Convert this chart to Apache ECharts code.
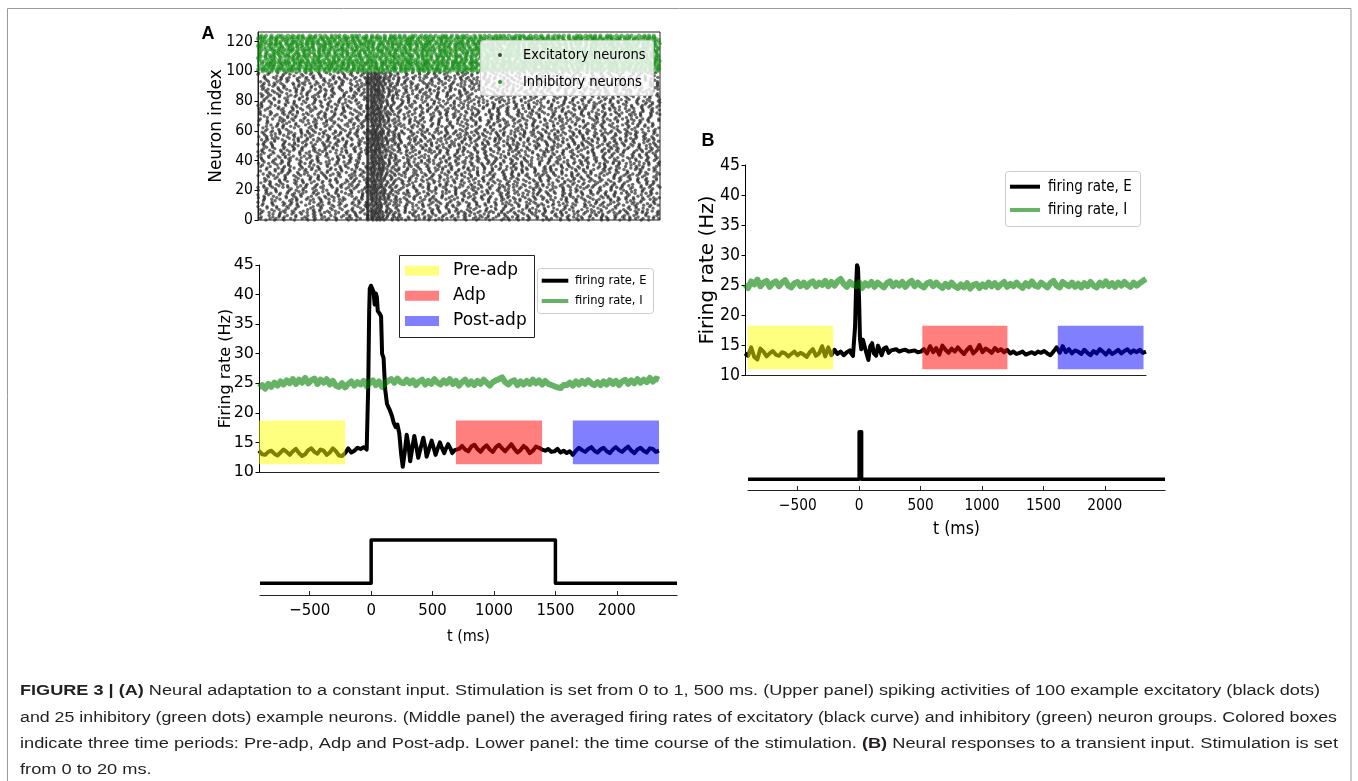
<!DOCTYPE html>
<html><head><meta charset="utf-8">
<script src="https://cdn.jsdelivr.net/npm/echarts@6/dist/echarts.min.js"></script>
<style>html,body{margin:0;padding:0;background:#fff}#c{width:1358px;height:781px}</style>
</head><body><div id="c"></div>
<script>
// ---------------- DATA ----------------
const tStart = -900, tEnd = 2350, tStep = 25;
// Panel A: excitatory rate (Hz)
const eA_pre = [13.6,13.0,12.9,13.4,13.6,13.1,12.8,13.3,13.8,13.4,12.9,13.5,13.9,13.2,12.7,13.0,13.7,14.0,13.4,13.1,13.8,13.6,12.9,13.3,14.0,13.5,12.8,12.7,13.2,14.0,13.3,13.6,14.1,13.9,14.2,13.8]; // t=-900..-25
const eA_trT = [-20,-12,-5,0,10,20,30,40,50,58,65,80,92,100,112,125,140,160,180,195,210,225,240,255,268,285,300,315,328,345,362,378,394,415,435,450,462,483,503,520,535,552,570,588,605,620,637,655,670,690,705];
const eA_trV = [13.8,25,37,41,41.5,41.2,40.5,38.3,40.2,39.5,37.2,36.8,36.3,30,29.3,24,21.5,20.6,19.5,18.3,17.6,18,16.5,13,10.9,13.5,16.3,14.5,11.8,14,16.1,14.3,12.4,14.2,15.8,14.3,12.6,14,15.3,14,12.9,14,15,14,13.2,14,14.7,14,13.2,13.7,14];
const eA_post = [13.9,14.4,13.8,13.5,14.3,14.6,13.9,13.4,14.1,14.5, 13.8,13.4,14.2,14.6,14.0,13.5,14.1,14.7,13.9,13.3, 13.7,14.4,14.0,13.2,13.6,14.3,14.1,13.8,13.6,13.9, 13.4,13.5,13.9,13.3,13.6,13.2,13.5,12.9,13.6,14.1, 13.7,13.4,13.9,14.2,13.6,13.3,13.8,14.1,13.5,13.2, 13.8,14.2,13.7,13.4,13.9,14.3,13.6,13.2,13.8,14.1, 13.6,13.3,14.0,13.9,13.4,13.6]; // t=725..2350
// Panel A: inhibitory rate (Hz), t=-900..2350
const iA = [24.3,24.7,24.1,24.9,24.4,25.1,24.6,25.3,24.8,25.5, 25.0,25.7,24.9,25.6,25.1,25.9,25.0,25.5,25.8,24.9, 25.6,25.1,25.7,24.8,25.4,24.6,24.4,25.0,24.3,24.9, 25.3,24.6,25.2,24.8,25.4,24.5,25.1,25.5,24.7,25.3, 24.4,25.0,25.4,25.7,25.1,25.8,25.2,25.0,25.6,25.0, 25.5,24.7,25.3,25.6,24.8,25.4,24.9,25.7,25.1,24.8, 25.5,25.0,25.7,24.9,25.4,24.6,25.2,25.6,24.8,25.3, 24.7,25.4,24.9,25.6,25.1,24.6,25.2,25.5,25.7,26.0, 25.2,24.8,25.3,25.5,24.7,25.3,24.8,25.4,24.9,25.6, 25.0,25.5,24.8,25.4,24.9,24.7,24.5,24.3,24.2,24.7, 24.7,25.1,24.6,25.3,24.8,25.4,24.9,25.5,25.0,24.7, 25.2,24.7,25.3,24.8,25.5,24.9,25.4,24.7,25.3,25.6, 24.9,25.5,25.0,25.7,25.1,25.6,25.2,25.9,25.3,25.8, 25.6];
// Panel B: excitatory rate (Hz)
const eB_pre = [13.6,13.2,14.6,13.0,12.6,14.4,13.9,13.1,13.6,14.0, 13.4,13.2,13.8,13.6,13.1,13.5,13.9,13.3,13.7,13.4, 13.0,13.8,14.3,13.2,13.6,14.8,13.1,14.6,13.3,14.2, 13.5,13.9,13.3,13.8,14.1]; // t=-900..-50
const eB_trT = [-40,-25,-15,-8,0,8,16,24,32,42,55,68,82,100,115,130,145,162,178,192,208,225,245,265,285];
const eB_trV = [13.6,13.2,13.5,18,24.5,28.3,27.8,23,16,14.3,15.9,15.6,13.8,12.5,14.8,15.3,13.6,13.2,14.9,14.2,13.3,14.4,14.6,13.7,14.1];
const eB_post = [14.0,14.3,13.9,14.1,14.2,13.9,14.0,14.1,13.8,13.9, 14.3,13.6,14.8,13.8,14.5,13.4,14.9,14.2,13.7,14.4, 13.9,14.6,14.0,13.5,14.2,14.7,13.6,14.1,15.0,13.8, 14.4,14.1,13.7,14.5,14.0,14.3,13.8,14.2,13.6,13.9, 13.5,13.7,13.9,13.4,13.6,13.8,13.5,13.9,13.7,14.0, 13.6,13.3,13.9,14.6,13.7,14.8,13.8,14.3,13.6,14.1, 13.9,13.5,14.2,13.7,13.3,14.0,13.6,14.3,13.9,13.4, 14.1,13.5,13.8,14.2,13.6,14.0,14.3,13.7,14.1,13.8, 14.2,13.7,13.9]; // t=300..2350
// Panel B: inhibitory rate (Hz), t=-900..2350
const iB = [25.1,24.5,25.6,25.1,25.9,24.8,25.4,25.7,24.7,25.3, 25.6,24.8,25.4,25.8,24.9,24.6,25.3,25.5,24.8,25.4, 24.7,25.3,25.6,24.8,25.4,25.0,25.7,24.8,25.5,24.9, 25.6,26.0,25.2,24.7,25.5,25.0,24.8,25.4,24.5,25.3, 24.9,25.5,24.7,25.4,25.0,24.6,25.3,25.6,24.8,25.4, 24.9,25.5,24.7,25.3,25.7,24.8,25.4,24.9,24.6,25.3, 25.5,24.8,25.4,24.9,24.5,25.2,24.7,25.4,24.8,24.5, 25.1,24.6,25.3,24.4,25.0,25.2,24.5,25.1,24.7,25.4, 24.8,25.3,24.6,25.1,25.5,24.7,25.2,24.8,25.4,24.9, 24.5,25.3,24.8,25.6,24.9,24.7,25.4,25.0,24.6,25.3, 25.7,24.9,24.6,25.5,25.1,24.8,25.4,24.7,25.2,24.6, 25.3,24.8,25.5,24.9,24.6,25.4,24.9,25.6,24.8,25.3, 24.7,25.4,24.9,25.5,25.0,24.7,25.4,24.9,25.3,25.7, 26.0];
// period boxes [start, end] (ms) and their rate extent (Hz)
const periodNames = ['Pre-adp','Adp','Post-adp'];
const periodsA = [[-900,-200],[700,1400],[1650,2350]];
const periodsB = [[-880,-185],[537,1227],[1635,2330]];
const boxRateA = [11.3,18.7];
const boxRateB = [10.95,18.2];
// stimulation time courses
const stimA_t = [-905,0,0,1500,1500,2490];
const stimA_v = [0,0,1,1,0,0];
const stimB_t = [-905,0,0,20,20,2490];
const stimB_v = [0,0,1,1,0,0];
// raster: neuron counts and a typed table of inter-spike-interval factors
const nExc = 100, nInh = 25;
const isiFactor = [1.12,0.74,1.35,0.91,0.62,1.24,1.05,0.83,1.41,0.69,0.97,1.18,0.78,1.30,0.88,1.08,0.66,1.46,0.94,0.72,1.21,1.01,0.85,1.33,0.59,1.14,0.99,0.76,1.27,0.93,1.06];
// tick labels
const rasterTicks = [0,20,40,60,80,100,120];
const timeTicks = [-500,0,500,1000,1500,2000];
// caption
const captionLines = [
  [['FIGURE 3 | (A)',1],[' Neural adaptation to a constant input. Stimulation is set from 0 to 1, 500 ms. (Upper panel) spiking activities of 100 example excitatory (black dots)',0]],
  [['and 25 inhibitory (green dots) example neurons. (Middle panel) the averaged firing rates of excitatory (black curve) and inhibitory (green) neuron groups. Colored boxes',0]],
  [['indicate three time periods: Pre-adp, Adp and Post-adp. Lower panel: the time course of the stimulation. ',0],['(B)',1],[' Neural responses to a transient input. Stimulation is set',0]],
  [['from 0 to 20 ms.',0]]
];
// ----------------------------------------------------------------

function seq(t0, vals){ return vals.map((v,i)=>[t0+i*tStep, v]); }
function pairs(ts, vs){ return ts.map((t,i)=>[t, vs[i]]); }
const eAData = seq(tStart, eA_pre).concat(pairs(eA_trT, eA_trV), seq(725, eA_post));
const iAData = seq(tStart, iA);
const eBData = seq(tStart, eB_pre).concat(pairs(eB_trT, eB_trV), seq(300, eB_post));
const iBData = seq(tStart, iB);
const stimAData = pairs(stimA_t, stimA_v);
const stimBData = pairs(stimB_t, stimB_v);

function perMs(data){
  const out = []; let j = 0;
  for (let t = tStart; t <= tEnd; t++){
    while (j < data.length-2 && data[j+1][0] < t) j++;
    const a = data[j], b = data[j+1];
    const f = Math.min(1, Math.max(0, (t-a[0])/(b[0]-a[0])));
    out.push(a[1] + (b[1]-a[1])*f);
  }
  return out;
}
// spike raster derived from the plotted population rates
function raster(rates, n, offset, onset, salt){
  const pts = [];
  for (let k = 0; k < n; k++){
    const m = 0.8 + 0.4*((k*0.7548776662 + 0.21) % 1);
    let ph = (k*0.6180339887 + 0.37) % 1;
    let c = k*13 + salt;
    let thr = isiFactor[c % isiFactor.length];
    let done = onset === null;
    for (let i = 0; i < rates.length; i++){
      const t = tStart + i;
      if (!done && t >= onset){ pts.push([t, k+offset]); ph = 0; done = true; continue; }
      ph += rates[i]*m/1000;
      if (ph >= thr){ pts.push([t, k + offset]); ph -= thr; c += 7; thr = isiFactor[c % isiFactor.length]; }
    }
  }
  return pts;
}
const onsetE = eA_trT[eA_trV.findIndex(v => v > 20)];
const excSpikes = raster(perMs(eAData), nExc, 0, onsetE, 0);
const inhSpikes = raster(perMs(iAData), nInh, nExc, null, 5);

const boxColors = ['rgba(255,255,0,0.5)','rgba(255,0,0,0.5)','rgba(0,0,255,0.5)'];
const FONT = 'DejaVu Sans';
// narrow face for the tall tick labels, if installed
const hasCond = (function(){
  const c = document.createElement('canvas').getContext('2d'), s = 'Excitatory 1000';
  c.font = '20px "DejaVu Sans Condensed", monospace'; const a = c.measureText(s).width;
  c.font = '20px "DejaVu Sans", monospace'; const b = c.measureText(s).width;
  c.font = '20px monospace'; const m = c.measureText(s).width;
  return Math.abs(a-b) > 1 && Math.abs(a-m) > 1;
})();
const CF = hasCond ? 'DejaVu Sans Condensed' : FONT;
const S = hasCond
  ? {rTick:15.6, sTickA:16.6, sNameA:16, sTickB:15.3, sNameB:17.5, bTick:17.5, rLeg:14.5, legA:12.8, legB:15}
  : {rTick:14, sTickA:15, sNameA:15, sTickB:14, sNameB:16, bTick:17, rLeg:13, legA:12, legB:14};

function boxSeries(periods, ext, xi, yi){
  return {
    type:'custom', xAxisIndex:xi, yAxisIndex:yi, z:5, silent:true,
    data: periods.map((p,i)=>[p[0],p[1],ext[0],ext[1],i]),
    renderItem: function(params, api){
      const p1 = api.coord([api.value(0), api.value(3)]);
      const p2 = api.coord([api.value(1), api.value(2)]);
      return {type:'rect', shape:{x:p1[0], y:p1[1], width:p2[0]-p1[0], height:p2[1]-p1[1]},
              style:{fill: boxColors[api.value(4)]}};
    }
  };
}
function rateY(gi, fam, fs, gap, nfs){
  return {gridIndex:gi, type:'value', min:10, max:45, interval:5,
    name:'Firing rate (Hz)', nameLocation:'middle', nameGap:gap, nameMoveOverlap:false,
    nameTextStyle:{fontFamily:FONT, fontSize:nfs, color:'#000'},
    axisLine:{show:true, onZero:false, lineStyle:{color:'#000', width:1}},
    axisTick:{show:true, length:3.5, lineStyle:{color:'#000'}},
    axisLabel:{fontFamily:fam, fontSize:fs, color:'#000', margin:5},
    splitLine:{show:false}};
}
function rateX(gi){
  return {gridIndex:gi, type:'value', min:tStart, max:tEnd,
    axisLine:{show:true, onZero:false, lineStyle:{color:'#222', width:1}},
    axisTick:{show:false}, axisLabel:{show:false}, splitLine:{show:false}};
}
function stimX(gi, fs, margin, nfs, gap){
  return {gridIndex:gi, type:'value', min:-905, max:2490,
    name:'t (ms)', nameLocation:'middle', nameGap:gap,
    nameTextStyle:{fontFamily:CF, fontSize:nfs, color:'#000'},
    axisLine:{show:true, onZero:false, lineStyle:{color:'#222', width:1.2}},
    axisTick:{show:true, inside:true, length:4, customValues:timeTicks, lineStyle:{color:'#222'}},
    axisLabel:{fontFamily:CF, fontSize:fs, color:'#000', margin:margin, customValues:timeTicks,
      formatter: v => (v<0 ? '\u2212'+(-v) : ''+v)},
    splitLine:{show:false}};
}
function stimY(gi, mn, mx){
  return {gridIndex:gi, type:'value', min:mn, max:mx, show:false, axisLine:{onZero:false}, splitLine:{show:false}};
}
function lineS(data, xi, yi, color, w, z){
  return {type:'line', xAxisIndex:xi, yAxisIndex:yi, data:data, showSymbol:false, symbol:'none',
    silent:true, z:z, progressive:0, lineStyle:{color:color, width:w, join:'round', cap:'butt'}};
}

const chart = echarts.init(document.getElementById('c'), null, {renderer:'canvas'});
const g0 = {outerBoundsMode:'none', containLabel:false};
const option = {
  animation:false,
  backgroundColor:'#fff',
  grid:[
    Object.assign({left:258, top:32, width:402, height:188, show:true, borderColor:'#222', borderWidth:1, backgroundColor:'transparent'}, g0),
    Object.assign({left:259, top:265, width:400, height:207}, g0),
    Object.assign({left:260, top:530, width:417, height:65}, g0),
    Object.assign({left:745, top:165, width:401, height:210}, g0),
    Object.assign({left:748, top:425, width:417, height:65}, g0)
  ],
  xAxis:[
    {gridIndex:0, type:'value', min:tStart, max:tEnd, axisLine:{show:false, onZero:false}, axisTick:{show:false}, axisLabel:{show:false}, splitLine:{show:false}},
    rateX(1),
    stimX(2, S.sTickA, 7, S.sNameA, 34),
    rateX(3),
    stimX(4, S.sTickB, 8.5, S.sNameB, 30)
  ],
  yAxis:[
    {gridIndex:0, type:'value', min:0, max:126.5,
      name:'Neuron index', nameLocation:'middle', nameGap:33, nameMoveOverlap:false,
      nameTextStyle:{fontFamily:FONT, fontSize:17, color:'#000'},
      axisLine:{show:true, onZero:false, lineStyle:{color:'#222'}},
      axisTick:{show:true, length:3.5, customValues:rasterTicks, lineStyle:{color:'#000'}},
      axisLabel:{fontFamily:CF, fontSize:S.rTick, color:'#000', margin:5, customValues:rasterTicks},
      splitLine:{show:false}},
    rateY(1, FONT, 16, 25, 16),
    stimY(2, -0.27, 1.23),
    rateY(3, CF, S.bTick, 27.5, 20),
    stimY(4, -0.225, 1.14)
  ],
  series:[
    {type:'scatter', xAxisIndex:0, yAxisIndex:0, data:excSpikes, symbolSize:3.4, silent:true,
      progressive:0, progressiveThreshold:1e9, large:false,
      itemStyle:{color:'rgba(40,40,40,0.85)'}, z:2},
    {type:'scatter', xAxisIndex:0, yAxisIndex:0, data:inhSpikes, symbolSize:4.2, silent:true,
      progressive:0, progressiveThreshold:1e9, large:false,
      itemStyle:{color:'rgba(10,135,10,0.72)'}, z:2},
    lineS(eAData, 1, 1, '#000', 4, 2),
    lineS(iAData, 1, 1, 'rgba(0,128,0,0.6)', 6, 3),
    boxSeries(periodsA, boxRateA, 1, 1),
    lineS(stimAData, 2, 2, '#000', 3.5, 2),
    lineS(eBData, 3, 3, '#000', 4, 2),
    lineS(iBData, 3, 3, 'rgba(0,128,0,0.6)', 6, 3),
    boxSeries(periodsB, boxRateB, 3, 3),
    lineS(stimBData, 4, 4, '#000', 3.5, 2)
  ],
  graphic:[]
};

const G = [];
const ZL = 1; // legends and annotations on a layer above the plotted marks
G.push({type:'rect', z:1, shape:{x:7.5, y:8.5, width:1343.5, height:790}, style:{fill:'none', stroke:'#9a9a9a', lineWidth:1}});
G.push({type:'text', zlevel:ZL, z:100, x:208, y:34, style:{text:'A', fontFamily:'Liberation Sans', fontWeight:'bold', fontSize:18, fill:'#000', align:'center', verticalAlign:'middle'}});
G.push({type:'text', zlevel:ZL, z:100, x:708, y:141, style:{text:'B', fontFamily:'Liberation Sans', fontWeight:'bold', fontSize:18, fill:'#000', align:'center', verticalAlign:'middle'}});
// raster legend
G.push({type:'rect', zlevel:ZL, z:100, shape:{x:480.5, y:40.5, width:173, height:55, r:3}, style:{fill:'rgba(255,255,255,0.8)', stroke:'rgba(204,204,204,0.8)', lineWidth:1}});
G.push({type:'circle', zlevel:ZL, z:101, shape:{cx:500, cy:55, r:2}, style:{fill:'#444'}});
G.push({type:'circle', zlevel:ZL, z:101, shape:{cx:500, cy:82, r:2}, style:{fill:'rgba(0,128,0,0.8)'}});
G.push({type:'text', zlevel:ZL, z:101, x:523, y:55, style:{text:'Excitatory neurons', fontFamily:CF, fontSize:S.rLeg, fill:'#000', verticalAlign:'middle'}});
G.push({type:'text', zlevel:ZL, z:101, x:523, y:82, style:{text:'Inhibitory neurons', fontFamily:CF, fontSize:S.rLeg, fill:'#000', verticalAlign:'middle'}});
// period legend (panel A)
G.push({type:'rect', zlevel:ZL, z:100, shape:{x:399.5, y:255.5, width:135, height:82}, style:{fill:'#fff', stroke:'#222', lineWidth:1}});
const rowsY = [270.7, 295.7, 321];
periodNames.forEach((nm,i)=>{
  G.push({type:'rect', zlevel:ZL, z:101, shape:{x:405, y:rowsY[i]-5, width:34, height:10}, style:{fill:boxColors[i]}});
  G.push({type:'text', zlevel:ZL, z:101, x:453, y:rowsY[i], style:{text:nm, fontFamily:FONT, fontSize:17, fill:'#000', verticalAlign:'middle'}});
});
function rateLegend(bx, by, bw, bh, lx1, lx2, y1, y2, tx, fs){
  G.push({type:'rect', zlevel:ZL, z:100, shape:{x:bx, y:by, width:bw, height:bh, r:3}, style:{fill:'rgba(255,255,255,0.85)', stroke:'#cccccc', lineWidth:1}});
  G.push({type:'line', zlevel:ZL, z:101, shape:{x1:lx1, y1:y1, x2:lx2, y2:y1}, style:{stroke:'#000', lineWidth:4}});
  G.push({type:'line', zlevel:ZL, z:101, shape:{x1:lx1, y1:y2, x2:lx2, y2:y2}, style:{stroke:'rgba(0,128,0,0.6)', lineWidth:4}});
  G.push({type:'text', zlevel:ZL, z:101, x:tx, y:y1, style:{text:'firing rate, E', fontFamily:CF, fontSize:fs, fill:'#000', verticalAlign:'middle'}});
  G.push({type:'text', zlevel:ZL, z:101, x:tx, y:y2, style:{text:'firing rate, I', fontFamily:CF, fontSize:fs, fill:'#000', verticalAlign:'middle'}});
}
rateLegend(537.5, 268.5, 116, 45, 541.7, 568.3, 280.7, 301, 575, S.legA);
rateLegend(1005.5, 171.5, 135, 55, 1010, 1040, 186.7, 210, 1048, S.legB);
// caption (justified-looking lines via horizontal scale)
const capFont = 'Liberation Sans', capSize = 15.5, capColor = '#231f20';
const mctx = document.createElement('canvas').getContext('2d');
function lineWidthPx(segs){
  let w = 0;
  segs.forEach(s => { mctx.font = (s[1] ? 'bold ' : '') + capSize + 'px "' + capFont + '"'; w += mctx.measureText(s[0]).width; });
  return w;
}
const capTargets = [1300, 1317, 1318, null];
const capY = [691, 718, 744, 770];
let lastScale = 1;
captionLines.forEach((segs,i)=>{
  const w = lineWidthPx(segs);
  const sc = capTargets[i] ? capTargets[i]/w : lastScale;
  lastScale = sc;
  const txt = segs.map(s => '{' + (s[1] ? 'b' : 'n') + '|' + s[0] + '}').join('');
  G.push({type:'text', z:100, x:20, y:capY[i], scaleX:sc, style:{text:txt,
    rich:{b:{fontWeight:'bold', fontFamily:capFont, fontSize:capSize, fill:capColor}, n:{fontFamily:capFont, fontSize:capSize, fill:capColor}},
    fontFamily:capFont, fontSize:capSize, fill:capColor, verticalAlign:'middle'}});
});
option.graphic = G;
chart.setOption(option);
</script>
</body></html>
